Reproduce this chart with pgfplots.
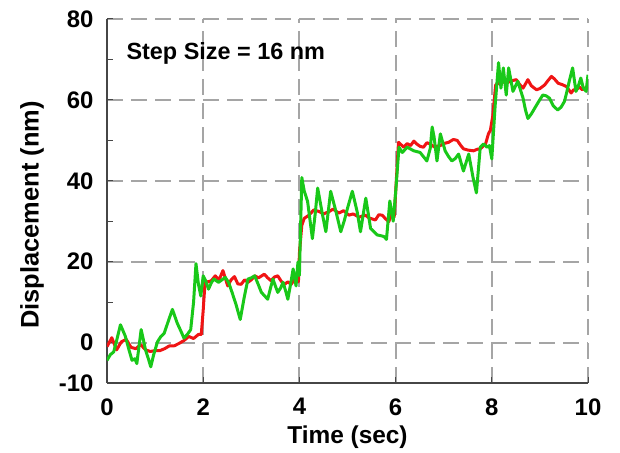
\documentclass[border=0pt]{standalone}
\usepackage{pgfplots}
\pgfplotsset{compat=1.18}
\usepackage{fontspec}
\setmainfont{Liberation Sans}
\definecolor{myred}{RGB}{240,20,20}
\definecolor{mygreen}{RGB}{25,200,25}
\definecolor{gridgray}{RGB}{165,165,165}
\definecolor{axgray}{RGB}{70,70,70}
\begin{document}
\begin{tikzpicture}[x=1bp,y=1bp]
\begin{axis}[
  scale only axis, width=481bp, height=364bp,
  at={(0,0)}, anchor=south west,
  xmin=0, xmax=10, ymin=-10, ymax=80,
  separate axis lines,
  axis x line*=bottom, axis y line*=left,
  axis line style={-, axgray, line width=1.3bp},
  xtick={2,4,6,8,10}, extra x ticks={0},
  ytick={0,20,40,60,80}, extra y ticks={-10},
  minor ytick={10,30,50,70},
  extra tick style={grid=none},
  tick align=inside,
  major tick length=6bp, minor tick length=6bp,
  tick style={axgray, line width=1bp},
  grid=major,
  major grid style={gridgray, line width=2bp, dash pattern=on 16bp off 8bp},
  tick label style={font=\fontsize{24}{24}\selectfont\bfseries},
  /pgf/number format/assume math mode=true,
  yticklabel style={xshift=-10bp},
  xticklabel style={yshift=-12bp},
  clip mode=individual,
]
\addplot[myred, line width=3bp, line join=round] coordinates {
(0,-1) (0.1,1.2) (0.2,-1.8) (0.3,0.2) (0.4,0.8) (0.5,-1.2) (0.6,-1.5) (0.7,-0.5) (0.8,-1.8) (0.9,-2.2) (1.0,-2.0) (1.1,-2.0) (1.2,-1.5) (1.3,-0.8) (1.4,-0.8) (1.5,-0.2) (1.6,0.5) (1.7,1.5) (1.8,1.0) (1.9,2.0) (1.96,2.0) (2.0,8) (2.04,15.2) (2.1,15.0) (2.17,15.3) (2.25,16.5) (2.33,15.5) (2.41,17.8) (2.51,14.0) (2.58,15.5) (2.65,16.3) (2.72,14.5) (2.79,14.4) (2.86,15.5) (2.93,14.9) (3.0,15.5) (3.07,16.5) (3.15,16.0) (3.27,16.9) (3.34,16.0) (3.41,15.3) (3.48,16.2) (3.55,16.5) (3.62,15.2) (3.69,14.4) (3.76,15.0) (3.83,14.4) (3.93,16.3) (3.98,15.0) (4.0,22) (4.05,29) (4.1,30.7) (4.2,31.5) (4.3,32.8) (4.41,32.4) (4.5,31.8) (4.62,32.4) (4.7,33) (4.82,32.0) (4.92,32.6) (5.03,31.5) (5.12,31.8) (5.24,31.0) (5.37,31.5) (5.45,30.8) (5.58,30.3) (5.65,31.6) (5.72,31.5) (5.8,30.5) (5.86,29.9) (5.93,32.4) (5.97,31) (6.0,37) (6.06,49.5) (6.17,48.3) (6.24,49.2) (6.31,48.7) (6.38,49.8) (6.44,49.1) (6.51,48.5) (6.58,48.3) (6.65,49.4) (6.72,49.1) (6.8,48.4) (6.93,48.7) (7.0,49.2) (7.1,49.5) (7.2,50.2) (7.28,50.0) (7.35,48.8) (7.41,47.9) (7.5,47.6) (7.62,47.4) (7.7,47.8) (7.76,47.9) (7.87,49.1) (7.93,51.6) (7.97,52.5) (8.02,56) (8.08,63.7) (8.16,64.2) (8.23,64.6) (8.3,64.0) (8.37,64.6) (8.44,64.8) (8.51,65.0) (8.58,63.8) (8.65,62.9) (8.75,65.0) (8.82,63.5) (8.93,62.5) (9.0,62.8) (9.1,63.7) (9.17,64.8) (9.24,65.8) (9.3,65.2) (9.38,64.1) (9.46,63.8) (9.55,63.3) (9.65,61.7) (9.7,62.5) (9.76,62.5) (9.82,63.2) (9.88,62.5) (9.93,62.9) (10,63)
};
\addplot[mygreen, line width=3bp, line join=round] coordinates {
(0,-4.4) (0.07,-3.0) (0.14,-2.3) (0.2,0.5) (0.28,4.4) (0.33,3.0) (0.38,1.6) (0.45,-1.5) (0.52,-4.4) (0.58,-4.0) (0.62,-5.2) (0.71,3.2) (0.76,0.5) (0.8,-1.8) (0.86,-4.0) (0.91,-6.0) (0.97,-3.0) (1.05,0.2) (1.12,1.5) (1.19,2.3) (1.28,5.5) (1.36,8.2) (1.46,4.8) (1.53,3.0) (1.6,1.1) (1.67,2.0) (1.74,3.2) (1.8,10.0) (1.85,19.5) (1.9,14.5) (1.95,11.5) (2.0,16.5) (2.05,15.3) (2.11,13.2) (2.17,14.8) (2.22,15.7) (2.32,14.9) (2.4,15.6) (2.46,16.1) (2.53,14.8) (2.6,12.4) (2.68,9.5) (2.77,5.7) (2.85,11.0) (2.93,15.7) (3.0,16.0) (3.07,16.5) (3.14,14.5) (3.21,12.4) (3.28,11.5) (3.34,10.7) (3.4,13.5) (3.45,15.7) (3.5,14.0) (3.55,12.4) (3.61,13.5) (3.66,14.9) (3.72,12.5) (3.76,10.7) (3.81,14.0) (3.87,18.2) (3.93,14.0) (3.97,19.9) (4.0,16.6) (4.05,40.8) (4.1,37.5) (4.17,34.9) (4.27,25.7) (4.33,32.0) (4.38,38.2) (4.48,31.6) (4.55,27.4) (4.65,37.4) (4.76,32.4) (4.86,27.4) (4.93,30.0) (5.0,33.2) (5.1,37.4) (5.2,32.4) (5.27,27.4) (5.38,35.7) (5.43,32.0) (5.48,28.2) (5.55,27.4) (5.62,26.6) (5.7,26.4) (5.76,26.2) (5.81,25.5) (5.88,35.0) (5.95,30.0) (6.0,37) (6.07,48.3) (6.14,47.0) (6.24,48.3) (6.38,47.4) (6.51,47.0) (6.65,44.9) (6.72,48.0) (6.76,53.3) (6.8,50.8) (6.86,44.9) (6.93,51.6) (7.03,47.4) (7.1,46.0) (7.17,44.9) (7.24,45.5) (7.31,46.6) (7.41,42.4) (7.52,46.6) (7.61,40.8) (7.68,37.0) (7.76,48.3) (7.83,49.1) (7.9,48.3) (7.95,48.7) (8.0,45.4) (8.07,58.7) (8.14,69.2) (8.19,62.9) (8.24,67.9) (8.3,61.2) (8.35,67.9) (8.44,62.1) (8.54,64.6) (8.65,60.4) (8.7,57.5) (8.75,55.4) (8.82,56.5) (8.89,57.9) (8.97,59.5) (9.06,61.2) (9.13,61.0) (9.2,60.4) (9.28,58.5) (9.37,57.5) (9.44,58.2) (9.51,59.6) (9.56,62.0) (9.61,64.6) (9.68,67.9) (9.75,62.1) (9.8,63.5) (9.85,65.4) (9.9,63.0) (9.96,62.1) (10,66.2)
};
\node[anchor=west, font=\fontsize{23.5}{23.5}\selectfont\bfseries] at (axis description cs:0.0333,0.904) {Step Size = 16 nm};
\node[rotate=90, font=\fontsize{25.5}{25.5}\selectfont\bfseries] at (axis description cs:-0.156,0.4615) {Displacement (nm)};
\node[font=\fontsize{24.5}{24.5}\selectfont\bfseries] at (axis description cs:0.5,-0.148) {Time (sec)};
\end{axis}
\pgfresetboundingbox
\useasboundingbox (-107,-70) rectangle (513,383);
\end{tikzpicture}
\end{document}
